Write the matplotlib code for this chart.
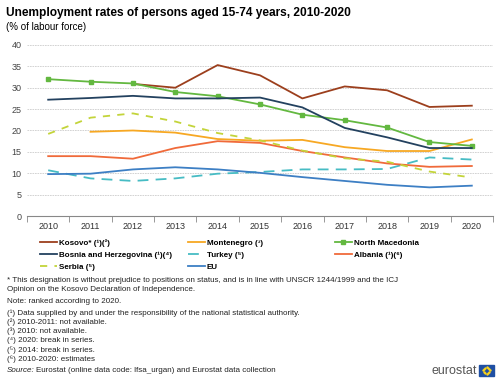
import matplotlib.pyplot as plt
from matplotlib.patches import Rectangle
import numpy as np

plt.rcParams['font.family'] = ['Liberation Sans', 'DejaVu Sans']

# data
years = ['2010', '2011', '2012', '2013', '2014', '2015', '2016', '2017', '2018', '2019', '2020']
kosovo = [None, None, 30.9, 30.0, 35.3, 32.9, 27.5, 30.3, 29.4, 25.5, 25.8]
montenegro = [None, 19.7, 20.0, 19.5, 18.0, 17.6, 17.8, 16.1, 15.2, 15.2, 17.9]
north_macedonia = [32.0, 31.4, 31.0, 29.0, 28.0, 26.1, 23.7, 22.4, 20.7, 17.3, 16.4]
bosnia = [27.2, 27.6, 28.1, 27.5, 27.5, 27.7, 25.4, 20.6, 18.4, 15.9, 15.9]
turkey = [10.7, 8.8, 8.2, 8.8, 9.9, 10.3, 10.9, 10.9, 11.0, 13.7, 13.2]
albania = [14.0, 14.0, 13.4, 15.9, 17.5, 17.1, 15.2, 13.7, 12.3, 11.5, 11.7]
serbia = [19.2, 23.0, 24.0, 22.1, 19.4, 17.7, 15.3, 13.5, 12.7, 10.4, 9.0]
eu = [9.8, 9.9, 10.9, 11.4, 10.9, 10.1, 9.1, 8.2, 7.3, 6.7, 7.1]

footnotes = [
    '* This designation is without prejudice to positions on status, and is in line with UNSCR 1244/1999 and the ICJ',
    'Opinion on the Kosovo Declaration of Independence.',
    'Note: ranked according to 2020.',
    '(\u00b9) Data supplied by and under the responsibility of the national statistical authority.',
    '(\u00b2) 2010-2011: not available.',
    '(\u00b3) 2010: not available.',
    '(\u2074) 2020: break in series.',
    '(\u2075) 2014: break in series.',
    '(\u2076) 2010-2020: estimates',
]
# vertical centre of each footnote line, in pixels from the top
foot_y = [281, 289.5, 301.5, 313, 322, 331.5, 340.5, 350, 359.5]

def arr(v):
    return np.array([np.nan if a is None else a for a in v], dtype=float)

W, H = 500, 381
fig = plt.figure(figsize=(5, 3.81), dpi=100)
ax = fig.add_axes([0.054, 0.433, 0.932, 0.449])
x = np.arange(len(years))

lines = {}
lines['kosovo'], = ax.plot(x, arr(kosovo), color='#9c3f1d', lw=1.3, label='Kosovo* (\u00b9)(\u00b2)')
lines['montenegro'], = ax.plot(x, arr(montenegro), color='#f7a823', lw=1.3, label='Montenegro (\u00b3)')
lines['nm'], = ax.plot(x, arr(north_macedonia), color='#63b840', lw=1.3, marker='s', ms=3,
                       label='North Macedonia')
lines['bosnia'], = ax.plot(x, arr(bosnia), color='#23415f', lw=1.3, label='Bosnia and Herzegovina (\u00b9)(\u2074)')
lines['turkey'], = ax.plot(x, arr(turkey), color='#47bcc4', lw=1.3, dashes=(6, 4), label='Turkey (\u2075)')
lines['albania'], = ax.plot(x, arr(albania), color='#f06a3a', lw=1.3, label='Albania (\u00b9)(\u2076)')
lines['serbia'], = ax.plot(x, arr(serbia), color='#c3d43a', lw=1.3, dashes=(4, 4), label='Serbia (\u2075)')
lines['eu'], = ax.plot(x, arr(eu), color='#3d7fc4', lw=1.3, label='EU')

ax.set_xlim(-0.5, len(years) - 0.5)
ax.set_ylim(0, 40)
ax.set_yticks(range(0, 41, 5))
ax.set_xticks(x)
ax.set_xticklabels(years)
ax.set_xticks(np.arange(-0.5, len(years), 1), minor=True)
ax.tick_params(axis='x', which='major', length=0, labelsize=6.5, colors='#333333', pad=4)
ax.tick_params(axis='x', which='minor', length=4, color='#888888')
ax.tick_params(axis='y', length=0, labelsize=6.5, colors='#444444', pad=4)
ax.grid(axis='y', color='#cccccc', lw=0.6, ls=(0, (2, 1)))
ax.set_axisbelow(True)
for s in ['left', 'right', 'top']:
    ax.spines[s].set_visible(False)
ax.spines['bottom'].set_color('#888888')

# legend: three columns placed at fixed positions
columns = [(['kosovo', 'bosnia', 'serbia'], 40), (['montenegro', 'turkey', 'eu'], 188), (['nm', 'albania'], 335)]
for keys, px in columns:
    leg = fig.legend([lines[k] for k in keys], [lines[k].get_label() for k in keys],
                     loc='upper left', bbox_to_anchor=(px / W, 1 - 239 / H), frameon=False,
                     prop={'size': 5.8, 'weight': 'bold'}, handlelength=2.1, handletextpad=0.25,
                     labelspacing=0.55, borderaxespad=0, borderpad=0)

fig.text(0.012, 0.965, 'Unemployment rates of persons aged 15-74 years, 2010-2020',
         fontsize=8.6, fontweight='bold', va='center')
fig.text(0.012, 0.93, '(% of labour force)', fontsize=7, va='center')

for t, py in zip(footnotes, foot_y):
    fig.text(0.014, 1 - py / H, t, fontsize=5.8, va='center', color='#222222')
fig.text(0.014, 1 - 370.5 / H, 'Source:', fontsize=5.8, style='italic', va='center', color='#222222')
fig.text(0.072, 1 - 370.5 / H, 'Eurostat (online data code: lfsa_urgan) and Eurostat data collection',
         fontsize=5.8, va='center', color='#222222')

# eurostat logo
fig.text(0.955, 0.027, 'eurostat', fontsize=9, color='#555555', ha='right', va='center')
fig.patches.append(Rectangle((0.958, 0.013), 0.03, 0.03, transform=fig.transFigure, color='#1f4fa3'))
ang = np.linspace(0, 2 * np.pi, 12, endpoint=False)
fig.add_artist(plt.Line2D(0.973 + 0.0065 * np.cos(ang), 0.028 + 0.0085 * np.sin(ang),
                          transform=fig.transFigure, ls='none', marker='o', ms=0.7, color='#ffd617'))

fig.savefig('out.png', dpi=100)
